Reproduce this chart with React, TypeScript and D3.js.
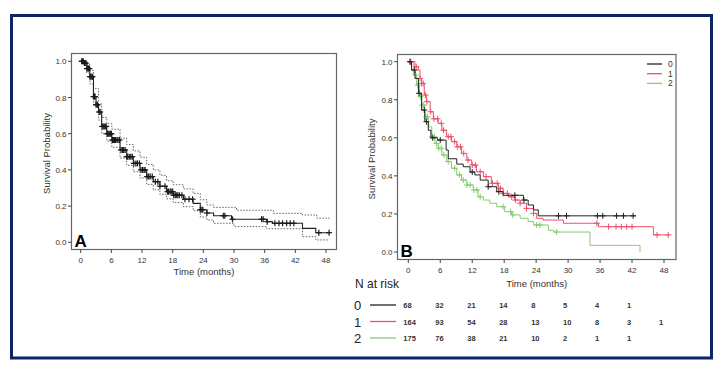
import * as d3 from 'd3';

// Panel A: overall KM estimate [month, survival]
const overall = [
  [0, 1], [0.6, 0.99], [1.2, 0.96], [1.8, 0.915], [2.5, 0.805], [3.0, 0.76], [3.5, 0.72], [4.1, 0.64],
  [5.1, 0.6], [6.1, 0.565], [7.7, 0.51], [9.0, 0.473], [10.3, 0.436], [11.6, 0.4], [12.9, 0.363],
  [14.2, 0.335], [15.5, 0.31], [16.8, 0.28], [18.1, 0.26], [20.1, 0.238], [22.0, 0.215], [23.4, 0.18],
  [24.7, 0.162], [26.0, 0.147], [29.5, 0.127], [36.4, 0.114], [37.5, 0.105], [43.4, 0.077], [46.0, 0.053], [48.7, 0.053],
];
const upperCI = [
  [0.5, 1], [1.2, 0.985], [1.8, 0.95], [2.5, 0.85], [3.5, 0.765], [4.1, 0.69], [5.1, 0.655], [6.1, 0.625],
  [7.7, 0.575], [9.0, 0.54], [10.3, 0.505], [11.6, 0.47], [12.9, 0.43], [14.2, 0.4], [15.5, 0.37],
  [16.8, 0.34], [18.1, 0.318], [20.1, 0.295], [22.0, 0.27], [23.4, 0.235], [24.7, 0.206], [26.0, 0.193],
  [30.5, 0.177], [37.7, 0.16], [43.4, 0.151], [46.2, 0.133], [48.7, 0.133],
];
const lowerCI = [
  [0.5, 0.99], [1.2, 0.935], [1.8, 0.875], [2.5, 0.76], [3.5, 0.675], [4.1, 0.6], [5.1, 0.56], [6.1, 0.525],
  [7.7, 0.465], [9.0, 0.425], [10.3, 0.39], [11.6, 0.355], [12.9, 0.32], [14.2, 0.29], [15.5, 0.265],
  [16.8, 0.24], [18.1, 0.22], [20.1, 0.197], [22.0, 0.175], [23.4, 0.14], [24.7, 0.123], [26.0, 0.105],
  [30.0, 0.087], [36.4, 0.075], [43.4, 0.031], [46.0, 0.013], [48.7, 0.013],
];
const overallCensor = [
  0.2, 0.3, 0.5, 0.7, 0.8, 1.0, 1.2, 1.4, 1.5, 1.7, 1.8, 2.0, 2.2, 2.3, 2.5, 2.7, 2.8, 3.0, 3.2, 3.3, 3.6,
  3.8, 4.2, 4.4, 4.6, 4.8, 5.0, 5.2, 5.3, 5.5, 5.7, 5.9, 6.0, 6.2, 6.4, 6.6, 6.8, 7.1, 7.3, 7.6, 7.9, 8.2,
  8.4, 8.7, 9.0, 9.2, 9.5, 9.8, 10.1, 10.4, 10.8, 11.1, 11.5, 11.8, 12.1, 12.4, 12.6, 13.0, 13.3, 13.6,
  14.0, 14.6, 15.1, 15.5, 16.5, 17.0, 17.2, 17.5, 17.7, 18.0, 18.2, 18.5, 18.7, 19.0, 19.3, 19.8, 20.4,
  21.2, 21.9, 23.4, 23.7, 23.9, 24.7, 27.9, 28.2, 29.7, 35.4, 35.7, 36.5, 38.0, 38.8, 39.5, 40.3, 41.0,
  41.7, 46.6, 48.6,
];

// Panel B: by group
const groups = ['0', '1', '2'];
const group0 = [
  [0, 1], [0.6, 0.956], [1.25, 0.912], [1.9, 0.834], [2.5, 0.746], [3.1, 0.685], [3.75, 0.64], [4.25, 0.6],
  [5.5, 0.588], [7.1, 0.536], [7.5, 0.49], [9.1, 0.462], [10.3, 0.448], [11.6, 0.42], [12.5, 0.405],
  [13.5, 0.378], [15.0, 0.343], [16.6, 0.317], [17.8, 0.298], [21.6, 0.273], [22.5, 0.247], [23.5, 0.221],
  [24.4, 0.19], [42.7, 0.19],
];
const group1 = [
  [0, 1], [1.25, 0.974], [1.9, 0.956], [2.2, 0.912], [2.5, 0.886], [3.0, 0.825], [3.4, 0.79], [4.1, 0.737],
  [4.7, 0.7], [5.6, 0.676], [6.3, 0.64], [7.2, 0.606], [8.1, 0.58], [9.1, 0.553], [10.0, 0.518], [11.0, 0.483],
  [11.9, 0.457], [12.8, 0.422], [14.1, 0.396], [15.6, 0.361], [16.9, 0.335], [17.8, 0.308], [18.8, 0.29],
  [20.0, 0.273], [21.0, 0.256], [22.2, 0.229], [23.5, 0.203], [24.1, 0.177], [25.3, 0.168], [29.1, 0.151],
  [35.7, 0.133], [46.0, 0.09], [48.8, 0.09],
];
const group2 = [
  [0, 1], [0.94, 0.93], [1.56, 0.877], [2.1, 0.816], [2.5, 0.772], [3.1, 0.71], [3.75, 0.658], [4.4, 0.606],
  [5.0, 0.57], [5.6, 0.545], [6.3, 0.51], [7.2, 0.475], [8.1, 0.44], [9.1, 0.405], [10.0, 0.378], [11.0, 0.352],
  [12.2, 0.326], [13.1, 0.29], [14.1, 0.273], [15.3, 0.256], [16.6, 0.238], [18.1, 0.212], [19.4, 0.195],
  [21.0, 0.177], [22.5, 0.16], [23.5, 0.142], [26.3, 0.114], [27.3, 0.105], [34.1, 0.035], [43.5, 0.0],
];
const censor0 = [0.3, 1.2, 2.0, 3.0, 3.4, 4.6, 6.0, 12.0, 15.0, 17.0, 20.0, 21.7, 28.2, 29.7, 35.5, 36.5, 39.1, 40.4, 42.2];
const censor1 = [
  0.4, 1.5, 2.2, 2.5, 2.8, 3.2, 3.5, 4.2, 4.8, 5.5, 6.2, 6.6, 7.5, 8.0, 8.7, 9.2, 9.8, 10.4, 11.2, 12.0,
  12.6, 13.5, 14.6, 15.8, 16.7, 17.3, 17.8, 18.6, 19.4, 20.1, 21.0, 22.2, 23.5, 35.4, 37.6, 39.0, 40.0,
  41.0, 42.0, 46.7, 48.8,
];
const censor2 = [
  0.5, 1.4, 1.8, 2.3, 2.6, 2.9, 3.3, 3.6, 4.5, 4.9, 5.3, 5.7, 6.2, 6.7, 7.5, 8.7, 9.6, 10.3, 11.0, 11.6,
  12.3, 12.9, 13.5, 17.8, 19.2, 19.6, 24.1, 24.7, 27.8,
];
const colors = ['#222222', '#ef4f6b', '#86cc70'];

// risk table
const riskTimes = [0, 6, 12, 18, 24, 30, 36, 42, 48];
const risk0 = [68, 32, 21, 14, 8, 5, 4, 1];
const risk1 = [164, 93, 54, 28, 13, 10, 8, 3, 1];
const risk2 = [175, 76, 38, 21, 10, 2, 1, 1];

const xTicks = [0, 6, 12, 18, 24, 30, 36, 42, 48];
const yTicks = [0, 0.2, 0.4, 0.6, 0.8, 1.0];

const font = 'Arial, "Liberation Sans", sans-serif';

const stepAt = (curve: number[][], t: number) => {
  let s = curve[0][1];
  for (const [ct, cs] of curve) if (ct <= t) s = cs;
  return s;
};

type PanelProps = {
  left: number; right: number; top: number; bottom: number;
  x0: number; x48: number; y1: number; y0: number;
  letter: string; labelX: number; titleY: number; children: (x: any, y: any) => any;
};

const Panel = ({ left, right, top, bottom, x0, x48, y1, y0, letter, labelX, titleY, children }: PanelProps) => {
  const x = d3.scaleLinear().domain([0, 48]).range([x0, x48]);
  const y = d3.scaleLinear().domain([0, 1]).range([y0, y1]);
  return (
    <g>
      <rect x={left} y={top} width={right - left} height={bottom - top} fill="#fff" stroke="#666" strokeWidth={1.2} />
      {xTicks.map((t) => (
        <g key={'x' + t}>
          <line x1={x(t)} x2={x(t)} y1={bottom} y2={bottom + 3.5} stroke="#444" />
          <text x={x(t)} y={bottom + 13} fontSize={8} textAnchor="middle" fill="#333" fontFamily={font}>{t}</text>
        </g>
      ))}
      {yTicks.map((t) => (
        <g key={'y' + t}>
          <line x1={left - 3.5} x2={left} y1={y(t)} y2={y(t)} stroke="#444" />
          <text x={left - 5} y={y(t) + 3} fontSize={8} textAnchor="end" fill="#333" fontFamily={font}>{t.toFixed(1)}</text>
        </g>
      ))}
      <text transform={`translate(${labelX},${(top + bottom) / 2 + 2}) rotate(-90)`} fontSize={9.5} textAnchor="middle" fill="#333" fontFamily={font}>
        Survival Probability
      </text>
      <text x={(left + right) / 2} y={titleY} fontSize={9.5} textAnchor="middle" fill="#333" fontFamily={font}>Time (months)</text>
      {children(x, y)}
      <text x={left + 3} y={bottom - 3} fontSize={17} fontWeight="bold" fill="#000" fontFamily={font}>{letter}</text>
    </g>
  );
};

const Censors = ({ times, curve, x, y, color, size = 3, width = 1 }: any) => (
  <g stroke={color} strokeWidth={width}>
    {times.map((t: number, i: number) => {
      const cx = x(t);
      const cy = y(stepAt(curve, t));
      return (
        <g key={i}>
          <line x1={cx - size} x2={cx + size} y1={cy} y2={cy} />
          <line x1={cx} x2={cx} y1={cy - size} y2={cy + size} />
        </g>
      );
    })}
  </g>
);

export default function App() {
  const stepLine = (x: any, y: any) =>
    d3.line<number[]>().x((d) => x(d[0])).y((d) => y(d[1])).curve(d3.curveStepAfter);

  const curvesB = [group0, group1, group2];
  const censorsB = [censor0, censor1, censor2];
  const risks = [risk0, risk1, risk2];

  return (
    <svg width={727} height={370} style={{ position: 'absolute', left: 0, top: 0 }}>
      <rect x={0} y={0} width={727} height={370} fill="#fff" />
      <rect x={11.5} y={15.5} width={700} height={342.5} fill="#fff" stroke="#0b2566" strokeWidth={3} />

      <Panel left={71.5} right={336.5} top={53.5} bottom={249.5} x0={80.7} x48={326} y1={61.3} y0={242.3}
        letter="A" labelX={50} titleY={275}>
        {(x: any, y: any) => {
          const line = stepLine(x, y);
          return (
            <g>
              <path d={line(upperCI as any) || ''} fill="none" stroke="#555" strokeWidth={0.9} strokeDasharray="1.5,1.5" />
              <path d={line(lowerCI as any) || ''} fill="none" stroke="#555" strokeWidth={0.9} strokeDasharray="1.5,1.5" />
              <path d={line(overall as any) || ''} fill="none" stroke="#222" strokeWidth={1.1} />
              <Censors times={overallCensor} curve={overall} x={x} y={y} color="#1a1a1a" width={1.2} />
            </g>
          );
        }}
      </Panel>

      <Panel left={397.5} right={676} top={54.5} bottom={259.5} x0={408.3} x48={664} y1={61.7} y0={252}
        letter="B" labelX={375} titleY={287}>
        {(x: any, y: any) => {
          const line = stepLine(x, y);
          return (
            <g>
              {[2, 1, 0].map((g) => (
                <g key={g}>
                  <path d={line(curvesB[g] as any) || ''} fill="none" stroke={colors[g]} strokeWidth={1} />
                  <Censors times={censorsB[g]} curve={curvesB[g]} x={x} y={y} color={colors[g]} />
                </g>
              ))}
              {groups.map((g, i) => (
                <g key={'leg' + g}>
                  <line x1={647} x2={662} y1={64 + i * 9.7} y2={64 + i * 9.7} stroke={colors[i]} strokeWidth={1.3} />
                  <text x={668} y={67 + i * 9.7} fontSize={8.5} fill="#333" fontFamily={font}>{g}</text>
                </g>
              ))}
              <text x={355} y={288} fontSize={12} fill="#222" fontFamily={font}>N at risk</text>
              {groups.map((g, i) => {
                const ry = 305 + i * 16.5;
                return (
                  <g key={'risk' + g}>
                    <text x={354} y={ry + 5} fontSize={13} fill="#222" fontFamily={font}>{g}</text>
                    <line x1={370} x2={396} y1={ry} y2={ry} stroke={colors[i]} strokeWidth={1.3} />
                    {risks[i].map((n, j) => (
                      <text key={j} x={x(riskTimes[j]) - 5} y={ry + 3} fontSize={7.5} fontWeight="bold" fill="#333" fontFamily={font}>{n}</text>
                    ))}
                  </g>
                );
              })}
            </g>
          );
        }}
      </Panel>
    </svg>
  );
}
